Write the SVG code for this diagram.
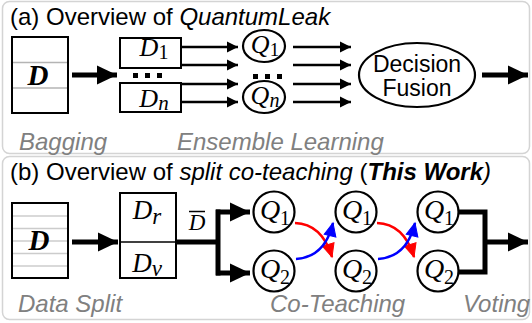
<svg xmlns="http://www.w3.org/2000/svg" width="532" height="323" viewBox="0 0 532 323">
<style>
.panel{fill:#fff;stroke:#d4d4d4;stroke-width:1.5}
.title{font-family:"Liberation Sans",Arial,sans-serif;font-size:24px;fill:#000}
.lbl{font-family:"Liberation Sans",Arial,sans-serif;font-size:24px;font-style:italic;fill:#808080}
.box{fill:#fff;stroke:#000;stroke-width:2}
.grid{stroke:#b4b4b4;stroke-width:1.5}
.grid2{stroke:#cccccc;stroke-width:1.5}
.math{font-family:"Liberation Serif","Times New Roman",serif;font-style:italic;fill:#000}
.sub{font-style:normal}
.bigD{font-family:"Liberation Serif","Times New Roman",serif;font-style:italic;font-weight:bold;font-size:29px;text-anchor:middle}
.node{fill:#fff;stroke:#000;stroke-width:2.2}
.thin{stroke:#000;stroke-width:2.5;fill:none;marker-end:url(#ah)}
.thick{stroke:#000;stroke-width:5;fill:none}
.thickA{stroke:#000;stroke-width:5;fill:none;marker-end:url(#AH)}
.red{stroke:#ff0000;stroke-width:2.5;fill:none;marker-end:url(#ahR)}
.blue{stroke:#0000ff;stroke-width:2.5;fill:none;marker-end:url(#ahB)}
.fus{font-family:"Liberation Sans",Arial,sans-serif;font-size:23px;text-anchor:middle}
</style>
<defs>
<marker id="ah" markerUnits="userSpaceOnUse" markerWidth="12" markerHeight="12" refX="11" refY="6" orient="auto"><path d="M0,0.5 L11,6 L0,11.5 z" fill="#000"/></marker>
<marker id="AH" markerUnits="userSpaceOnUse" markerWidth="21" markerHeight="20" refX="20" refY="10" orient="auto"><path d="M0,0.5 L20,10 L0,19.5 z" fill="#000"/></marker>
<marker id="ahR" markerUnits="userSpaceOnUse" markerWidth="16" markerHeight="14" refX="14" refY="7" orient="auto"><path d="M1,1 L14,7 L1,13 z" fill="#ff0000" stroke="#ff0000" stroke-width="1"/></marker>
<marker id="ahB" markerUnits="userSpaceOnUse" markerWidth="16" markerHeight="14" refX="14" refY="7" orient="auto"><path d="M1,1 L14,7 L1,13 z" fill="#0000ff" stroke="#0000ff" stroke-width="1"/></marker>
</defs>

<rect class="panel" x="2.5" y="1.5" width="527" height="152" rx="7"/>
<rect class="panel" x="2.5" y="156.5" width="527" height="163" rx="7"/>

<text class="title" x="10" y="25">(a) Overview of <tspan font-style="italic">QuantumLeak</tspan></text>
<text class="title" x="10" y="180">(b) Overview of <tspan font-style="italic">split co-teaching</tspan> (<tspan font-style="italic" font-weight="bold">This Work</tspan><tspan font-style="italic">)</tspan></text>

<text class="lbl" x="19" y="150">Bagging</text>
<text class="lbl" x="177" y="150">Ensemble Learning</text>
<text class="lbl" x="18" y="312">Data Split</text>
<text class="lbl" x="270" y="312">Co-Teaching</text>
<text class="lbl" x="463" y="312">Voting</text>

<g id="connectors">
<path class="thickA" d="M72 75 H117"/>
<path class="thin" d="M182 47 H238"/>
<path class="thin" d="M182 65 H238"/>
<path class="thin" d="M182 84 H238"/>
<path class="thin" d="M182 102 H238"/>
<path class="thin" d="M293 47 H351"/>
<path class="thin" d="M293 65 H351"/>
<path class="thin" d="M293 84 H351"/>
<path class="thin" d="M293 102 H351"/>
<path class="thickA" d="M482 75 H528"/>

<path class="thickA" d="M72 242 H118"/>
<path class="thick" d="M176 242 H218"/>
<path class="thick" d="M218 209.5 V275.5"/>
<path class="thickA" d="M216 212 H250"/>
<path class="thickA" d="M216 273 H250"/>
<path class="red" d="M295 223 Q322 224 332 257"/>
<path class="blue" d="M296 259 Q325 257 333 223"/>
<path class="red" d="M377 223 Q404 224 414 257"/>
<path class="blue" d="M378 259 Q407 257 415 223"/>
<path class="thick" d="M459 212 H485 V272 H459"/>
<path class="thickA" d="M483 242 H528"/>
</g>

<g id="dataA">
<rect class="box" x="12" y="37" width="56" height="76"/>
<line class="grid" x1="13" y1="62.5" x2="67" y2="62.5"/>
<line class="grid" x1="13" y1="88" x2="67" y2="88"/>
<text class="bigD" x="38" y="85">D</text>
</g>
<g id="D1">
<rect class="box" x="120" y="38" width="61" height="30"/>
<text class="math" x="154" y="56" font-size="26" text-anchor="middle">D<tspan class="sub" dy="3" font-size="20">1</tspan></text>
</g>
<g id="dotsD">
<rect x="133" y="73" width="5" height="5"/>
<rect x="145" y="73" width="5" height="5"/>
<rect x="157" y="73" width="5" height="5"/>
</g>
<g id="Dn">
<rect class="box" x="120" y="83" width="61" height="29"/>
<text class="math" x="154" y="107" font-size="26" text-anchor="middle">D<tspan dy="3" font-size="21">n</tspan></text>
</g>
<g id="Q1a">
<ellipse class="node" cx="264" cy="46" rx="21" ry="16"/>
<text class="math" x="265" y="53" font-size="26" text-anchor="middle">Q<tspan class="sub" dy="3" font-size="19">1</tspan></text>
</g>
<g id="dotsQ">
<rect x="253" y="74" width="5" height="5"/>
<rect x="265" y="74" width="5" height="5"/>
<rect x="277" y="74" width="5" height="5"/>
</g>
<g id="Qna">
<ellipse class="node" cx="264" cy="97" rx="21" ry="16"/>
<text class="math" x="265" y="104" font-size="26" text-anchor="middle">Q<tspan dy="3" font-size="20">n</tspan></text>
</g>
<g id="fusion">
<ellipse class="node" cx="417" cy="75" rx="58" ry="32"/>
<text class="fus" x="417" y="72">Decision</text>
<text class="fus" x="417" y="96">Fusion</text>
</g>

<g id="dataB">
<rect class="box" x="12" y="203" width="56" height="75"/>
<line class="grid2" x1="13" y1="216" x2="67" y2="216"/>
<line class="grid2" x1="13" y1="228.5" x2="67" y2="228.5"/>
<line class="grid2" x1="13" y1="241" x2="67" y2="241"/>
<line class="grid2" x1="13" y1="253.5" x2="67" y2="253.5"/>
<line class="grid2" x1="13" y1="266" x2="67" y2="266"/>
<text class="bigD" x="39" y="250">D</text>
</g>
<g id="split">
<rect class="box" x="120" y="193" width="56" height="85"/>
<line x1="120" y1="242" x2="176" y2="242" stroke="#000" stroke-width="1.5"/>
<text class="math" x="147" y="219" font-size="27" text-anchor="middle">D<tspan dy="5" font-size="23">r</tspan></text>
<text class="math" x="147" y="272" font-size="27" text-anchor="middle">D<tspan dy="4" font-size="23">v</tspan></text>
</g>
<g id="Dbar">
<text class="math" x="197" y="230" font-size="23" text-anchor="middle">D</text>
<line x1="189" y1="211.5" x2="205" y2="211.5" stroke="#000" stroke-width="1.5"/>
</g>
<g id="Q1c1"><circle class="node" cx="274" cy="212" r="20.5"/><text class="math" x="275" y="219" font-size="28" text-anchor="middle">Q<tspan class="sub" dy="6" font-size="20">1</tspan></text></g>
<g id="Q2c1"><circle class="node" cx="274" cy="271" r="20.5"/><text class="math" x="275" y="278" font-size="28" text-anchor="middle">Q<tspan class="sub" dy="6" font-size="20">2</tspan></text></g>
<g id="Q1c2"><circle class="node" cx="356" cy="212" r="20.5"/><text class="math" x="357" y="219" font-size="28" text-anchor="middle">Q<tspan class="sub" dy="6" font-size="20">1</tspan></text></g>
<g id="Q2c2"><circle class="node" cx="356" cy="271" r="20.5"/><text class="math" x="357" y="278" font-size="28" text-anchor="middle">Q<tspan class="sub" dy="6" font-size="20">2</tspan></text></g>
<g id="Q1c3"><circle class="node" cx="438" cy="212" r="20.5"/><text class="math" x="439" y="219" font-size="28" text-anchor="middle">Q<tspan class="sub" dy="6" font-size="20">1</tspan></text></g>
<g id="Q2c3"><circle class="node" cx="438" cy="271" r="20.5"/><text class="math" x="439" y="278" font-size="28" text-anchor="middle">Q<tspan class="sub" dy="6" font-size="20">2</tspan></text></g>
</svg>
